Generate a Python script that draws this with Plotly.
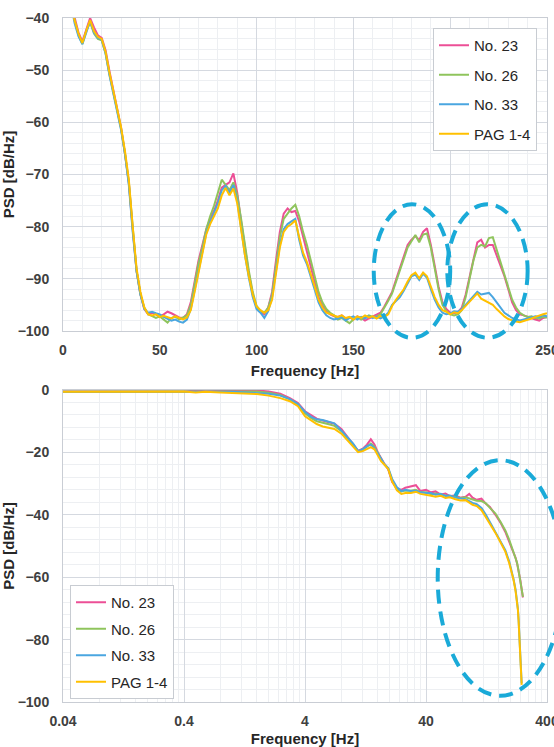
import math
import plotly.graph_objects as go

# ---------------- data: top chart (PSD, linear frequency) ----------------
SERIES = ["No. 23", "No. 26", "No. 33", "PAG 1-4"]
FREQ_TOP = list(range(4, 251, 2))

PSD_23 = [
    -37, -40.2, -42.8, -44.5, -42, -40, -41.8, -43.3, -43.8, -46.2,
    -50.2, -53.8, -56.8, -61, -66, -71.5, -80.5, -88.5, -93, -95.8,
    -96.8, -96.5, -96.8, -97.2, -96.8, -96.3, -96.6, -97, -97.4, -97.5,
    -96.8, -94.5, -90.5, -86.5, -83.5, -80.5, -78.5, -77, -75, -72.5,
    -72, -71.5, -69.8, -73.5, -79, -84.5, -89, -93, -95.5, -96.3,
    -96.8, -95.5, -92.5, -86.5, -81, -77.5, -76.5, -77.2, -77, -79,
    -82, -84.5, -87.5, -90.5, -93.5, -95.2, -96.2, -96.8, -97.2, -97.3,
    -97, -97.6, -97.4, -97.8, -97.2, -97.5, -98, -97.6, -97.2, -96.8,
    -96.5, -95.3, -94, -92.5, -90.2, -88, -85.7, -83.5, -82.5, -81.8,
    -82.6, -81, -80.3, -83.5, -87.5, -91.5, -94.5, -95.8, -96.5, -96.6,
    -96.4, -95.5, -93, -89.5, -86, -83, -82.5, -84, -83.5, -83.5,
    -85.5, -87.5, -89.5, -92, -94.5, -96, -96.8, -97, -97.3, -97.6,
    -97.8, -98, -97.5, -97.3,
]
PSD_26 = [
    -37, -40.5, -43.2, -45, -42.5, -40.8, -43, -44, -44.3, -46.8,
    -50.8, -54.2, -57.2, -61.2, -66, -71.5, -80, -88.5, -93, -95.5,
    -96.8, -97.2, -97.5, -97.2, -97.8, -98.4, -97.5, -97.2, -97.8, -97.4,
    -97, -95, -90.8, -87, -84, -80.5, -78, -76, -73.5, -71,
    -72, -73, -71.5, -74, -78.5, -83.5, -88.5, -92.5, -95.2, -96.2,
    -96.5, -95.5, -93, -87.5, -82, -78.5, -77.5, -76.5, -75.8, -78,
    -81, -83.5, -86.5, -89.5, -92.5, -94.5, -95.8, -96.5, -97, -97.8,
    -97.5, -98, -98.5, -97.8, -97.3, -97.8, -97.4, -97, -97.3, -97.2,
    -96.8, -95.6, -94.2, -92.8, -90.5, -88.2, -86, -84, -82.8, -81.6,
    -83, -81.5, -81.3, -84, -88, -92, -95, -96.2, -96.8, -97,
    -96.8, -96, -93.5, -90, -86.5, -84, -83.5, -83.8, -82.2, -82,
    -84.5, -86.8, -89, -91.5, -94, -95.5, -96.5, -97, -97.3, -97.2,
    -97.5, -97.6, -97.3, -97.4,
]
PSD_33 = [
    -37, -41, -43.5, -45, -42.8, -40.6, -42.8, -43.8, -44.2, -46.8,
    -51, -54.5, -57.5, -61.5, -66, -72, -81, -88.5, -93, -95.8,
    -96.5, -96.3, -96.6, -96.8, -97.3, -97.6, -98, -97.8, -98.2, -98.4,
    -97.8, -95.8, -92, -88.2, -84.8, -81.2, -79.2, -77.5, -75.5, -73,
    -72.2, -73.5, -72, -75, -80.5, -85.5, -89.8, -93.5, -95.8, -96.5,
    -97.5, -96.2, -93.5, -88, -83.5, -80.5, -79.5, -79, -78.5, -82.5,
    -85.5, -87.2, -89.5, -92, -94.5, -96, -97, -97.5, -97.8, -97.6,
    -97.3, -98, -97.5, -97.2, -97.8, -97.3, -97.6, -97.2, -97.5, -97.3,
    -97.6, -97.2, -96.5, -95, -94.2, -93.5, -92.3, -91, -89.5, -89.2,
    -90.2, -89, -89.8, -92, -94, -95.5, -96.5, -96.8, -96.6, -96.2,
    -96.3, -95.8, -95, -94, -93.2, -92.5, -93, -92.8, -92.7, -93.5,
    -94.5, -95.5, -96.5, -97, -97.5, -97.8, -98, -97.8, -97.6, -97.4,
    -97.2, -97.3, -97, -97.2,
]
PSD_PAG = [
    -37, -40.5, -43, -44.8, -42.5, -40.4, -42.5, -43.6, -44, -46.5,
    -50.5, -54, -57, -61, -65.5, -71, -80, -88, -92.5, -95.5,
    -96.8, -97, -96.8, -97.3, -97.1, -97.4, -97.6, -97.2, -97.5, -97.8,
    -97.4, -96, -92.5, -89, -85, -81.5, -79.5, -78, -76.5, -74,
    -72.6, -74, -72.7, -75.5, -81, -85.5, -89.5, -93, -95.3, -96,
    -96.5, -96, -94, -88.5, -84, -81, -80, -79.5, -78.8, -82,
    -85, -86.8, -89, -91.5, -94, -95.5, -96.5, -96.8, -97, -97.3,
    -97, -97.5, -97.3, -97.8, -97.2, -97.5, -97, -97.4, -97.2, -97.6,
    -97.1, -97.3, -96.8, -95.2, -94, -93, -92, -90.5, -89.3, -88.8,
    -89.9, -88.8, -89.5, -91.5, -93.5, -95, -96, -96.3, -96.8, -96.4,
    -96.6, -96, -95.2, -94.2, -93.6, -92.8, -93.8, -94.2, -94.5, -95,
    -95.8, -96.5, -97.2, -97.7, -98, -98.2, -98.3, -98.1, -97.9, -97.6,
    -97.3, -97, -96.8, -96.6,
]

# ---------------- data: bottom chart (log frequency) ----------------
FREQ_BOT = [
    0.04, 0.06, 0.08, 0.1, 0.15, 0.2, 0.25, 0.3, 0.4, 0.5,
    0.6, 0.8, 1.0, 1.3, 1.6, 2.0, 2.5, 3.0, 3.5, 4.0,
    4.5, 5.0, 5.6, 6.3, 7.0, 8, 9, 10, 11, 12,
    13, 14, 15, 16, 17, 18, 19.5, 21, 23, 25,
    27, 30, 33, 36, 40, 44, 48, 53, 58, 63,
    70, 77, 85, 91, 97, 105, 115, 125, 135, 150,
    165, 181, 195, 205, 212, 220, 226, 230, 233, 237,
    241, 244, 247, 250, 253,
]
BOT_23 = [
    -0.5, -0.5, -0.5, -0.5, -0.5, -0.5, -0.4, -0.3, -0.5, -0.2,
    -0.4, -0.3, -0.2, -0.3, -0.1, -0.5, -1.2, -2.6, -4.2, -6.8,
    -8.2, -9.2, -9.8, -10.3, -10.8, -12.5, -15, -17.5, -19.5, -18.8,
    -17.5, -15.8, -17.5, -20, -22, -23.5, -25.5, -29.5, -31.5, -32,
    -31.3, -30.8, -30.5, -32.4, -32, -32.8, -32.5, -33.5, -33.2, -34,
    -33.8, -34.5, -34.2, -33.3, -34.5, -35.2, -34.8, -36.5, -37.5, -40,
    -42.5, -45.5, -48.5, -50.5, -52.2, -53.8, -55.5, -56.8, -58, -59.5,
    -61, -62.5, -63.8, -65.3, -66.5,
]
BOT_26 = [
    -0.6, -0.6, -0.5, -0.6, -0.6, -0.6, -0.5, -0.6, -0.4, -0.5,
    -0.6, -0.5, -0.5, -0.6, -0.5, -0.9, -1.6, -3.0, -4.6, -7.5,
    -9.0, -10.0, -10.6, -11.0, -11.5, -13.2, -15.5, -17.8, -19.6, -19.2,
    -18.3, -17.2, -18.2, -20.3, -22.3, -23.8, -25.2, -29, -31.8, -32.5,
    -32.2, -32.3, -32.0, -32.8, -32.8, -33.4, -33.2, -33.6, -33.8, -34.0,
    -34.3, -34.6, -34.4, -34.8, -35.0, -35.5, -35.6, -36.3, -37.8, -39.6,
    -42.2, -45, -48, -50.3, -52, -54, -55.3, -56.7, -58, -60,
    -61.3, -62.5, -63.7, -65, -66.3,
]
BOT_33 = [
    -0.6, -0.6, -0.6, -0.6, -0.6, -0.6, -0.6, -0.5, -0.5, -0.6,
    -0.5, -0.6, -0.6, -0.8, -0.9, -1.2, -1.8, -2.9, -4.5, -7.0,
    -8.6, -9.4, -9.6, -10.2, -10.7, -13.0, -15.2, -17.2, -19.6, -19.0,
    -18.0, -17.5, -18.6, -20.4, -22.4, -23.6, -25.0, -28.5, -31.2, -32.4,
    -32.0, -32.4, -32.3, -32.8, -33.0, -33.0, -33.6, -33.3, -34.0, -33.8,
    -34.5, -34.8, -35.0, -35.6, -36.2, -36.6, -37.8, -40.0, -42.3, -45.2,
    -48.2, -51.3, -55, -58, -60.8, -64, -67.2, -70.2, -73.5, -79.5,
    -85, -89, -94, None, None,
]
BOT_PAG = [
    -0.6, -0.6, -0.7, -0.6, -0.6, -0.6, -0.7, -0.7, -0.5, -0.8,
    -0.6, -0.8, -0.9, -1.1, -1.3, -1.8, -2.6, -3.6, -5.2, -8.4,
    -9.8, -10.9, -11.7, -12.1, -12.5, -14.0, -16.2, -18.2, -19.9, -19.6,
    -18.8, -18.3, -19.0, -20.8, -22.8, -23.8, -25.3, -29.3, -32.2, -33.3,
    -33.0, -33.0, -32.6, -33.3, -33.5, -33.9, -34.2, -33.9, -34.6, -34.4,
    -35.0, -35.4, -35.3, -36.0, -36.8, -37.2, -38.5, -40.8, -42.8, -45.8,
    -48.8, -51.8, -55.5, -58.5, -61.0, -64.5, -67.5, -70.5, -74, -80.2,
    -85.5, -89.5, -94.5, None, None,
]

TOP_TICKS_X = [0, 50, 100, 150, 200, 250]
TOP_TICKS_Y = [-40, -50, -60, -70, -80, -90, -100]
BOT_TICKS_X = [0.04, 0.4, 4, 40, 400]
BOT_TICK_TEXT = ["0.04", "0.4", "4", "40", "400"]
BOT_TICKS_Y = [0, -20, -40, -60, -80, -100]

COLORS = ["#EC4F96", "#8FC45C", "#4AA6E0", "#FFC000"]

# highlighted regions (data units): (x0, x1, y0, y1)
TOP_RANGE_X = [0, 250]
TOP_RANGE_Y = [-100, -40]
BOT_RANGE_X = [0.04, 400]
BOT_RANGE_Y = [-100, 0]
TOP_ELLIPSES = [(160.5, 200.0, -101.3, -75.7), (198.5, 240.0, -101.3, -75.7)]
BOT_ELLIPSE = (50.0, 540.0, -98.0, -22.5)

fig = go.Figure()
top_vals = [PSD_23, PSD_26, PSD_33, PSD_PAG]
bot_vals = [BOT_23, BOT_26, BOT_33, BOT_PAG]
for i, name in enumerate(SERIES):
    fig.add_trace(go.Scatter(x=FREQ_TOP, y=top_vals[i], mode="lines", name=name,
                             line=dict(color=COLORS[i], width=2),
                             xaxis="x", yaxis="y", legend="legend",
                             legendgroup="t" + str(i)))
for i, name in enumerate(SERIES):
    fig.add_trace(go.Scatter(x=FREQ_BOT, y=bot_vals[i], mode="lines", name=name,
                             line=dict(color=COLORS[i], width=2),
                             xaxis="x2", yaxis="y2", legend="legend2",
                             legendgroup="b" + str(i)))

W, H = 554, 747
ML, MR, MT, MB = 63, 7, 18, 45
ph = H - MT - MB
top_bottom = (H - MB - 331) / ph
bot_top = (H - MB - 390) / ph

FAM = "Liberation Sans, Arial, sans-serif"
tick_font = dict(family=FAM, size=14, color="#404040", weight="bold")
title_font = dict(family=FAM, size=15, color="#262626", weight="bold")
leg_font = dict(family=FAM, size=15, color="#262626")
MAJOR = "#D5D9E0"
MINOR = "#EDEFF2"
LINE = "#C9CDD4"

minor_log = []
for dec in [0.04, 0.4, 4, 40]:
    for k in range(2, 10):
        minor_log.append(dec * k)

common = dict(showgrid=True, gridcolor=MAJOR, gridwidth=1, showline=True, linecolor=LINE,
              mirror=True, zeroline=False, tickfont=tick_font, ticklabeloverflow="allow",
              automargin=False)

fig.update_layout(
    width=W, height=H,
    margin=dict(l=ML, r=MR, t=MT, b=MB, autoexpand=False),
    paper_bgcolor="white", plot_bgcolor="white",
    showlegend=True,
    xaxis=dict(domain=[0, 1], anchor="y", range=TOP_RANGE_X, tickvals=TOP_TICKS_X,
               minor=dict(dtick=10, showgrid=True, gridcolor=MINOR, gridwidth=1),
               ticklabelstandoff=6,
               title=dict(text="Frequency [Hz]", font=title_font, standoff=8), **common),
    yaxis=dict(domain=[top_bottom, 1], anchor="x", range=TOP_RANGE_Y, tickvals=TOP_TICKS_Y,
               minor=dict(dtick=2, showgrid=True, gridcolor=MINOR),
               ticklabelstandoff=10,
               title=dict(text="PSD [dB/Hz]", font=title_font, standoff=6), **common),
    xaxis2=dict(domain=[0, 1], anchor="y2", type="log",
                range=[math.log10(BOT_RANGE_X[0]), math.log10(BOT_RANGE_X[1])],
                tickvals=BOT_TICKS_X, ticktext=BOT_TICK_TEXT,
                minor=dict(tickvals=minor_log, showgrid=True, gridcolor=MINOR),
                ticklabelstandoff=6,
                title=dict(text="Frequency [Hz]", font=title_font, standoff=8), **common),
    yaxis2=dict(domain=[0, bot_top], anchor="x2", range=BOT_RANGE_Y, tickvals=BOT_TICKS_Y,
                minor=dict(dtick=4, showgrid=True, gridcolor=MINOR),
                ticklabelstandoff=10,
                title=dict(text="PSD [dB/Hz]", font=title_font, standoff=6), **common),
    legend=dict(x=(433 - ML) / (W - ML - MR), y=(H - MB - 28) / ph, xanchor="left", yanchor="top",
                bgcolor="white", bordercolor="#C8CCD2", borderwidth=1, font=leg_font,
                traceorder="grouped", tracegroupgap=7, itemwidth=30),
    legend2=dict(x=(70 - ML) / (W - ML - MR), y=(H - MB - 585) / ph, xanchor="left", yanchor="top",
                 bgcolor="white", bordercolor="#C8CCD2", borderwidth=1, font=leg_font,
                 traceorder="grouped", tracegroupgap=4, itemwidth=30),
)

ELL_LINE = dict(color="#1AAAD8", width=4, dash="14px,8px")


def frac_lin(v, r):
    return (v - r[0]) / (r[1] - r[0])


def frac_log(v, r):
    return (math.log10(v) - math.log10(r[0])) / (math.log10(r[1]) - math.log10(r[0]))


for (x0, x1, y0, y1) in TOP_ELLIPSES:
    fig.add_shape(type="circle", xref="x domain", yref="y domain",
                  x0=frac_lin(x0, TOP_RANGE_X), x1=frac_lin(x1, TOP_RANGE_X),
                  y0=frac_lin(y0, TOP_RANGE_Y), y1=frac_lin(y1, TOP_RANGE_Y),
                  line=ELL_LINE, layer="above")
x0, x1, y0, y1 = BOT_ELLIPSE
fig.add_shape(type="circle", xref="x2 domain", yref="y2 domain",
              x0=frac_log(x0, BOT_RANGE_X), x1=frac_log(x1, BOT_RANGE_X),
              y0=frac_lin(y0, BOT_RANGE_Y), y1=frac_lin(y1, BOT_RANGE_Y),
              line=ELL_LINE, layer="above")

fig.write_html("out.html")
